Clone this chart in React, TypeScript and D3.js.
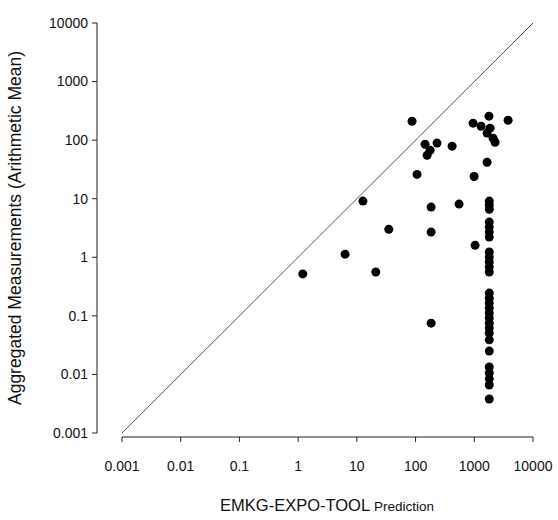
import React from "react";
import * as d3 from "d3";

const tickValues = [0.001, 0.01, 0.1, 1, 10, 100, 1000, 10000];
const tickLabels = ["0.001", "0.01", "0.1", "1", "10", "100", "1000", "10000"];

// Scattered points (prediction, measurement)
const predScatter = [1.2, 6.3, 21, 12.7, 35, 87, 106, 145, 157, 177, 232, 419, 184, 184, 184, 551, 993, 1032, 955, 1306, 1780, 1858, 1652, 2090, 2261, 3767, 1652];
const measScatter = [0.52, 1.13, 0.56, 9.1, 3.0, 210, 26, 85, 55, 67, 89, 79, 7.2, 2.69, 0.075, 8.1, 24, 1.6, 195, 173, 257, 160, 132, 108, 92, 219, 42];

// Vertical column of measurements at a single predicted value
const columnPrediction = 1800;
const columnMeasurements = [9.1, 7.8, 6.6, 3.99, 3.28, 2.69, 2.21, 1.23, 1.01, 0.83, 0.68, 0.56, 0.245, 0.2, 0.165, 0.136, 0.112, 0.092, 0.075, 0.062, 0.051, 0.039, 0.025, 0.0134, 0.0106, 0.0084, 0.0066, 0.0038];

const W = 558;
const H = 520;

export default function App() {
  const x = d3.scaleLog().domain([0.001, 10000]).range([122, 533]);
  const y = d3.scaleLog().domain([0.001, 10000]).range([433, 23]);

  const points = [
    ...predScatter.map((p, i) => ({ p, m: measScatter[i] })),
    ...columnMeasurements.map((m) => ({ p: columnPrediction, m })),
  ];

  const axisX = 97;
  const axisY = 437;
  const font = "Arial, 'Liberation Sans', sans-serif";
  const line = d3.line<number>().x((d) => x(d)).y((d) => y(d));

  return (
    <svg width={W} height={H} style={{ position: "absolute", left: 0, top: 0, background: "#fff" }} fontFamily={font}>
      <rect width={W} height={H} fill="#fff" />
      {/* identity line */}
      <path d={line([0.001, 10000]) || ""} stroke="#555" strokeWidth={1} fill="none" />
      {/* y axis */}
      <line x1={axisX} x2={axisX} y1={y(10000)} y2={y(0.001)} stroke="#222" strokeWidth={1} />
      {tickValues.map((t, i) => (
        <g key={"y" + i}>
          <line x1={axisX - 5} x2={axisX} y1={y(t)} y2={y(t)} stroke="#222" />
          <text x={axisX - 9} y={y(t)} dy="0.35em" textAnchor="end" fontSize={14} fill="#111">
            {tickLabels[i]}
          </text>
        </g>
      ))}
      {/* x axis */}
      <line x1={x(0.001)} x2={x(10000)} y1={axisY} y2={axisY} stroke="#222" strokeWidth={1} />
      {tickValues.map((t, i) => (
        <g key={"x" + i}>
          <line x1={x(t)} x2={x(t)} y1={axisY} y2={axisY + 5} stroke="#222" />
          <text x={x(t)} y={axisY + 29} dy="0.35em" textAnchor="middle" fontSize={14} fill="#111">
            {tickLabels[i]}
          </text>
        </g>
      ))}
      {/* points */}
      {points.map((d, i) => (
        <circle key={i} cx={x(d.p)} cy={y(d.m)} r={4.5} fill="#000" />
      ))}
      {/* axis titles */}
      <text transform={`translate(15,${(y(10000) + y(0.001)) / 2}) rotate(-90)`} textAnchor="middle" dy="0.35em" fontSize={17.5} fill="#111">
        Aggregated Measurements (Arithmetic Mean)
      </text>
      <text x={327} y={511} textAnchor="middle" fill="#111">
        <tspan fontSize={16.5}>EMKG-EXPO-TOOL</tspan>
        <tspan fontSize={13.5}> Prediction</tspan>
      </text>
    </svg>
  );
}
